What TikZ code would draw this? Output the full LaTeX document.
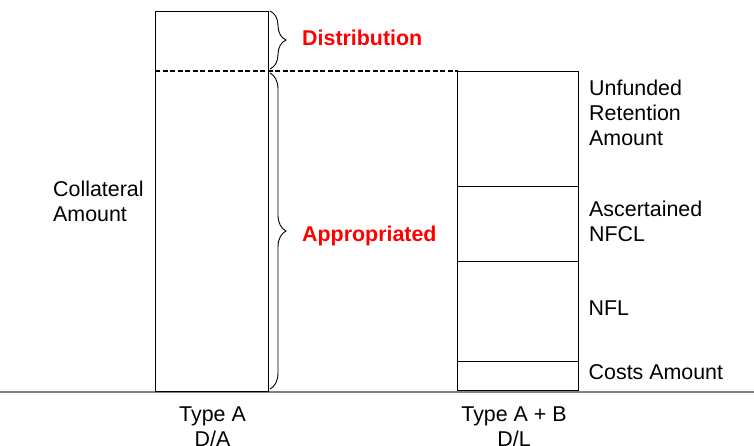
\documentclass[tikz,border=0pt]{standalone}
\usepackage{fontspec}
\setmainfont{Liberation Sans}
\usetikzlibrary{decorations.pathreplacing}
\begin{document}
\begin{tikzpicture}[x=1pt,y=-1pt,
  box/.style={draw=black, line width=0.9pt, inner sep=0pt, outer sep=0pt, anchor=north west, minimum width=#1},
  lbl/.style={font=\fontsize{21.4}{25}\selectfont, inner sep=0pt, align=left, anchor=base west},
  ctr/.style={font=\fontsize{21.4}{25}\selectfont, inner sep=0pt, align=center, anchor=base},
  tag/.style={font=\fontsize{21.4}{25}\selectfont\bfseries, text=red, inner sep=0pt, anchor=base west},
  bracestyle/.style={draw=black, line width=0.9pt, decorate, decoration={brace, amplitude=16pt}},
  divider/.style={draw=black, line width=1.2pt, dash pattern=on 5pt off 2.5pt},
  ground/.style={draw=gray, line width=1.6pt}]
\useasboundingbox (0,0) rectangle (754,445);
% ground line
\coordinate (gl) at (0,391.7);
\coordinate (gr) at (754,391.7);
\draw[ground] (gl) -- (gr);
% left column
\node[box=113.5pt, minimum height=380pt] (colA) at (155,11) {};
% right column segments
\node[box=120.5pt, minimum height=115pt] (seg1) at (457.5,71) {};
\node[box=120.5pt, minimum height=75pt] (seg2) at (457.5,186) {};
\node[box=120.5pt, minimum height=100pt] (seg3) at (457.5,261) {};
\node[box=120.5pt, minimum height=29.5pt] (seg4) at (457.5,361) {};
% dashed divider
\draw[divider] (colA.west |- seg1.north) -- (seg1.north west);
% braces
\coordinate (b1s) at (270,11);
\coordinate (b1e) at (270,69);
\coordinate (b2s) at (270,73);
\coordinate (b2e) at (270,389);
\draw[bracestyle] (b1s) -- (b1e);
\draw[bracestyle] (b2s) -- (b2e);
% labels
\node[tag] (dist) at (302,45.3) {Distribution};
\node[tag] (appr) at (302,241) {Appropriated};
\node[lbl] (coll) at (53,221.5) {Collateral\\Amount};
\node[lbl] (unf) at (589,145) {Unfunded\\Retention\\Amount};
\node[lbl] (asc) at (589,241.7) {Ascertained\\NFCL};
\node[lbl] (nfl) at (588.5,315.7) {NFL};
\node[lbl] (cost) at (588.5,379.8) {Costs Amount};
\node[ctr] (ta) at (212.5,446.3) {Type A\\D/A};
\node[ctr] (tab) at (514,446.7) {Type A + B\\D/L};
\end{tikzpicture}
\end{document}
